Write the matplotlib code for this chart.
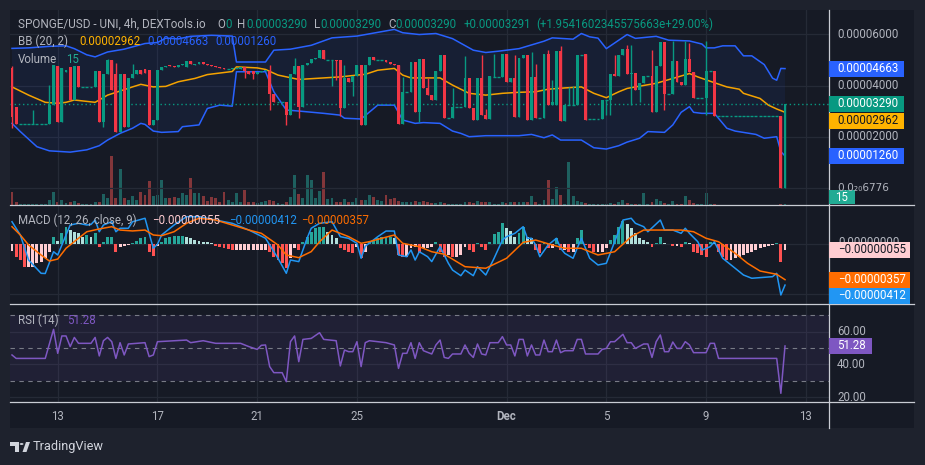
import numpy as np
import matplotlib
matplotlib.use("Agg")
import matplotlib.pyplot as plt
from matplotlib.patches import Rectangle, Polygon, Circle
from matplotlib.lines import Line2D

W, H = 925, 465
FS = 8.3
plt.rcParams["font.family"] = ["Roboto", "DejaVu Sans"]

BG_OUT = "#1e222d"
BG_IN = "#161a25"
GRID = "#252a36"
TXT = "#b2b5be"
UP = "#089981"
DOWN = "#f23645"
BLUE = "#2962ff"
AMBER = "#ffb300"

# ---- 4h candles, prices in units of 1e-6 ----
opens = [
    46.8, 31.8, 24.9, 24.9, 24.9, 24.9, 24.9, 24.9, 24.9, 24.9,
    32.4, 47.7, 25.9, 45.4, 47.3, 34.4, 47.7, 39.3, 39.3, 39.3,
    39.3, 45.6, 25.9, 44.7, 49.9, 44.7, 22.1, 44.7, 24.0, 42.8,
    44.7, 46.0, 46.3, 46.0, 24.7, 26.6, 46.0, 47.3, 48.0, 47.5,
    47.3, 48.0, 47.3, 49.5, 48.0, 48.6, 49.2, 48.6, 48.2, 47.7,
    47.3, 46.7, 46.5, 46.5, 46.7, 46.5, 47.3, 45.6, 45.6, 44.7,
    45.4, 45.6, 45.6, 36.6, 33.5, 33.5, 33.5, 28.5, 44.4, 47.7,
    31.8, 48.0, 48.9, 50.5, 50.8, 53.8, 49.9, 49.9, 49.9, 49.9,
    31.3, 43.0, 41.4, 43.8, 48.2, 24.7, 48.2, 51.2, 49.9, 49.9,
    49.9, 49.2, 48.6, 48.0, 24.9, 37.6, 37.6, 49.2, 29.6, 50.5,
    39.0, 36.3, 34.4, 45.6, 52.1, 27.2, 27.2, 31.8, 31.8, 31.8,
    43.0, 31.1, 26.6, 43.0, 28.5, 27.0, 43.4, 43.4, 43.4, 52.5,
    41.5, 42.8, 27.9, 50.8, 51.8, 26.6, 43.4, 27.2, 27.2, 52.5,
    32.4, 32.4, 53.4, 26.2, 32.4, 32.4, 32.4, 52.1, 52.5, 26.9,
    26.9, 26.9, 26.9, 34.4, 34.4, 44.7, 43.8, 51.8, 54.4, 44.7,
    45.0, 38.2, 41.2, 43.8, 43.8, 29.6, 47.7, 57.0, 36.6, 36.6,
    49.5, 41.5, 40.2, 50.5, 45.4, 35.3, 35.3, 35.3, 45.6, 45.6,
    28.3, 28.3, 28.3, 28.3, 28.3, 28.3, 28.3, 28.3, 28.3, 28.3,
    28.3, 28.3, 28.3, 28.3, 28.3, 28.3, 0.0,
]
closes = [
    27.9, 24.9, 24.9, 24.9, 24.9, 24.9, 24.9, 24.9, 24.9, 32.4,
    48.0, 25.9, 46.7, 46.0, 34.4, 47.7, 39.3, 39.3, 39.3, 39.3,
    45.6, 25.9, 44.7, 49.9, 38.2, 22.1, 44.7, 24.0, 42.8, 44.7,
    46.0, 44.7, 45.0, 24.7, 26.6, 46.0, 47.3, 47.7, 47.5, 47.3,
    48.0, 48.3, 49.5, 48.3, 48.6, 49.2, 48.6, 48.2, 47.7, 47.3,
    46.7, 46.5, 46.5, 47.0, 46.7, 47.3, 45.6, 44.7, 44.7, 45.4,
    45.6, 46.0, 36.6, 33.5, 33.5, 33.5, 28.5, 44.4, 47.7, 31.8,
    48.0, 48.9, 50.5, 50.8, 53.8, 50.5, 49.9, 49.9, 49.5, 31.3,
    43.0, 41.4, 43.8, 48.2, 24.7, 48.2, 51.2, 49.9, 49.9, 49.9,
    49.2, 48.6, 48.0, 24.9, 37.6, 37.6, 49.2, 29.6, 50.5, 39.0,
    36.3, 34.4, 45.6, 52.1, 27.2, 27.2, 31.8, 31.8, 31.8, 43.0,
    31.1, 26.6, 43.0, 28.5, 27.0, 43.8, 43.4, 43.4, 52.5, 41.5,
    42.8, 27.9, 50.8, 51.8, 26.6, 43.4, 27.2, 27.2, 52.5, 32.4,
    33.7, 53.4, 26.2, 32.4, 32.4, 32.4, 52.1, 52.1, 26.6, 26.9,
    26.9, 26.9, 34.4, 34.4, 44.7, 43.8, 51.8, 54.4, 44.7, 45.0,
    38.2, 41.2, 43.8, 43.8, 29.6, 47.7, 57.0, 36.6, 36.6, 49.5,
    41.5, 40.2, 50.5, 45.4, 35.3, 35.3, 35.3, 45.6, 45.6, 28.3,
    28.3, 28.3, 28.3, 28.3, 28.3, 28.3, 28.3, 28.3, 28.3, 28.3,
    28.3, 28.3, 28.3, 28.3, 28.3, 0.0, 32.9,
]
# wicks that reach past the body
wick_high = {0: 47.5, 5: 30.5, 9: 40.2, 23: 50.5, 25: 49.0, 29: 48.6,
             62: 48.0, 68: 50.8, 80: 48.0, 94: 43.4, 100: 43.0, 106: 38.9,
             109: 51.5, 113: 51.8, 114: 31.0, 116: 52.5, 121: 52.0,
             125: 53.0, 126: 48.6, 129: 54.0, 130: 42.0, 132: 55.5,
             134: 39.5, 135: 40.0, 145: 51.8, 148: 55.7, 149: 55.7,
             154: 53.8, 159: 57.3, 162: 57.5, 163: 56.5, 167: 57.2}
wick_low = {0: 23.5, 22: 24.0, 56: 43.0, 58: 42.5, 62: 30.5, 66: 24.5,
            69: 27.5, 77: 40.0, 78: 42.0, 79: 28.0, 82: 36.0, 98: 26.0,
            143: 28.5, 144: 28.5, 149: 32.4, 151: 33.5, 157: 30.5, 167: 28.5}
volumes = [
    200, 50, 15, 15, 15, 20, 15, 15, 15, 75,
    200, 50, 75, 35, 50, 60, 25, 10, 10, 10,
    40, 50, 160, 100, 735, 100, 540, 100, 75, 140,
    75, 200, 150, 360, 140, 150, 375, 100, 100, 125,
    100, 175, 150, 410, 175, 175, 140, 60, 125, 100,
    50, 200, 75, 50, 175, 50, 225, 40, 40, 25,
    40, 60, 75, 60, 25, 15, 50, 125, 450, 160,
    100, 450, 375, 100, 210, 500, 85, 100, 50, 50,
    90, 50, 50, 100, 75, 75, 150, 125, 75, 60,
    150, 90, 100, 60, 50, 50, 50, 60, 50, 60,
    50, 25, 35, 40, 35, 15, 15, 10, 10, 50,
    40, 35, 65, 50, 40, 50, 15, 15, 40, 35,
    40, 40, 40, 40, 40, 140, 50, 15, 75, 375,
    90, 265, 150, 10, 645, 140, 60, 40, 25, 10,
    10, 10, 15, 10, 25, 10, 50, 75, 25, 15,
    15, 15, 175, 10, 40, 90, 60, 25, 10, 60,
    15, 10, 135, 75, 25, 10, 10, 175, 10, 15,
    5, 5, 5, 5, 5, 5, 5, 5, 5, 5,
    5, 5, 5, 5, 5, 15, 15,
]

# ---- Bollinger Bands (20, 2), read at candle indices ----
bb_upper_idx = [0, 4, 9, 13, 15, 18, 20, 23, 27, 32, 35, 37, 40, 43, 48, 53, 54, 61, 63, 67,
                72, 77, 83, 92, 94, 98, 102, 106, 111, 114, 117, 122, 128, 130, 135, 137, 139,
                141, 143, 146, 148, 150, 155, 158, 163, 166, 167, 169, 171, 174, 176, 178, 181,
                183, 184, 185, 186]
bb_upper_val = [54.5, 54.7, 55.3, 55.5, 54.4, 52.0, 51.2, 53.1, 54.2, 56.4, 56.8, 58.5, 58.2,
                59.2, 59.6, 59.3, 49.2, 49.2, 53.8, 54.2, 55.7, 58.6, 59.3, 61.9, 60.6, 59.9,
                60.3, 58.3, 53.8, 52.9, 53.4, 54.4, 57.3, 58.6, 58.1, 60.3, 59.0, 58.5, 54.4,
                57.7, 59.9, 58.4, 59.2, 57.7, 57.4, 56.2, 54.7, 54.7, 55.5, 55.5, 51.6, 51.6,
                48.2, 42.9, 42.1, 46.7, 46.63]
bb_mid_idx = [0, 4, 8, 11, 13, 15, 20, 23, 26, 29, 31, 34, 37, 40, 44, 47, 50, 53, 54, 59,
              61, 64, 69, 75, 79, 83, 85, 88, 92, 94, 96, 103, 106, 110, 114, 118, 122, 126,
              129, 133, 137, 140, 143, 146, 148, 150, 155, 159, 163, 165, 168, 172, 175, 176,
              180, 182, 184, 186]
bb_mid_val = [39.5, 36.3, 33.5, 33.1, 33.5, 34.4, 33.5, 36.3, 37.9, 39.5, 40.5, 39.5, 39.7,
              41.5, 42.8, 44.3, 44.9, 45.5, 47.3, 46.9, 46.3, 44.1, 42.4, 43.0, 43.4, 44.1,
              44.4, 46.0, 46.7, 44.1, 43.0, 43.0, 40.2, 37.0, 36.3, 37.0, 37.4, 37.6, 38.6,
              39.1, 39.5, 37.0, 35.3, 37.6, 38.9, 39.5, 40.9, 42.8, 44.7, 43.4, 41.7, 39.5,
              38.6, 37.0, 35.0, 32.4, 30.9, 29.62]
bb_lower_idx = [0, 2, 6, 9, 14, 18, 21, 23, 26, 29, 31, 32, 34, 36, 40, 41, 45, 47, 50, 53,
                54, 61, 63, 66, 69, 75, 79, 80, 84, 88, 92, 94, 97, 99, 103, 106, 108, 110,
                114, 122, 125, 128, 130, 132, 137, 140, 143, 146, 148, 151, 153, 157, 159,
                161, 163, 164, 166, 169, 172, 174, 179, 181, 184, 185, 186]
bb_lower_val = [25.3, 22.1, 16.2, 14.6, 14.1, 15.0, 16.6, 18.8, 21.4, 23.4, 25.3, 24.9, 22.3,
                21.8, 22.1, 24.0, 24.7, 31.1, 32.4, 32.0, 45.4, 45.4, 37.6, 30.5, 30.1, 29.2,
                28.5, 27.3, 27.0, 32.4, 32.4, 26.6, 25.3, 25.6, 25.3, 22.3, 21.4, 20.1, 20.5,
                20.5, 21.0, 19.7, 20.8, 18.8, 18.8, 15.8, 15.3, 16.6, 18.0, 19.5, 22.1, 21.8,
                24.7, 29.6, 31.8, 29.6, 29.2, 29.2, 23.4, 22.3, 21.0, 19.5, 20.1, 14.3, 12.6]

# ---- MACD (12, 26, close, 9), units of 1e-6 ----
macd_idx = [0, 2, 4, 7, 8, 10, 11, 13, 14, 16, 18, 19, 20, 21, 22, 24, 25, 26, 28, 29,
            32, 33, 34, 35, 36, 39, 42, 45, 49, 53, 57, 61, 64, 66, 67, 69, 71, 72, 74, 77,
            79, 81, 83, 84, 85, 88, 90, 92, 93, 95, 96, 97, 98, 100, 101, 103, 105, 106, 108,
            109, 111, 112, 114, 116, 118, 119, 121, 123, 124, 125, 126, 127, 129, 131, 132,
            133, 135, 137, 138, 139, 141, 143, 145, 147, 149, 150, 152, 153, 156, 157, 159,
            161, 162, 163, 165, 166, 168, 169, 171, 174, 176, 178, 183, 184, 185, 186]
macd_val = [2.28, 0.94, -1.59, -2.93, -2.95, -0.75, -1.08, 0.94, 1.95, 2.12, 1.95, 2.0, 2.45,
            1.27, 1.95, 2.28, 1.27, 1.62, 1.62, 2.28, 2.63, 1.11, -0.40, 0.0, 0.94, 1.95, 2.79,
            2.79, 2.45, 2.12, 1.44, 0.61, -1.41, -2.93, -1.59, -1.75, 0.61, 1.62, 2.12, 2.28,
            0.77, 0.6, 0.10, -1.41, -0.2, 0.77, 1.34, 1.34, -1.08, -1.25, -0.57, -1.59, -0.75,
            -1.25, -1.75, -0.24, -1.92, -2.6, -3.17, -2.6, -3.17, -2.26, -3.1, -1.41, 0.43,
            0.77, 1.11, 1.78, 0.61, 0.61, -0.07, -1.25, -0.07, 0.61, -0.4, -0.91, -1.41, 0.61,
            -0.4, -1.41, -2.09, -1.92, 0.26, 2.45, 2.63, 2.12, 1.78, 1.27, 2.45, 1.44, 1.44,
            1.11, 1.62, 1.11, 0.27, -0.58, -0.24, 0.26, -1.41, -2.42, -3.1, -3.43, -3.27,
            -2.93, -5.12, -4.12]
signal_idx = [0, 2, 4, 7, 9, 11, 13, 16, 18, 21, 24, 26, 29, 32, 34, 36, 39, 42, 45, 49,
              53, 57, 60, 64, 66, 69, 72, 74, 77, 81, 84, 86, 89, 92, 94, 98, 101, 104, 106,
              109, 114, 119, 123, 126, 130, 133, 137, 141, 145, 149, 152, 156, 161, 164, 167,
              170, 174, 177, 180, 184, 186]
signal_val = [1.78, 0.94, -0.07, -1.08, -1.69, -1.49, -0.4, 0.61, 1.27, 1.55, 1.78, 1.44,
              1.35, 1.44, 0.94, 0.87, 1.27, 2.12, 2.63, 2.45, 1.95, 1.44, 1.11, -0.07, -1.08,
              -1.35, -0.74, 0.26, 1.44, 0.77, 0.10, 0.27, 0.61, 0.94, 0.1, -0.24, -0.75, -1.0,
              -1.5, -2.26, -2.42, -1.41, 0.2, 0.43, -0.07, -0.4, -0.4, -1.08, -0.75, 0.77,
              1.44, 1.44, 1.44, 1.27, 0.61, 0.26, -0.91, -1.92, -2.7, -3.03, -3.57]
macd_hist = [
    -0.67, -1.25, -1.58, -2.26, -2.26, -2.26, -1.92, -1.75, -1.41, -0.74,
    0.77, 0.34, 1.11, 1.78, 1.45, 1.28, 1.11, 0.77, 0.94, 0.77,
    1.11, -0.24, 0.27, 0.77, 0.77, -0.74, -0.24, -0.13, -0.07, 0.10,
    0.34, 0.61, 0.77, -0.74, -1.18, -0.13, 0.27, 0.67, 0.77, 0.84,
    0.84, 0.84, 0.77, 0.61, 0.44, 0.34, 0.27, 0.20, 0.10, -0.13,
    -0.24, -0.40, -0.51, -0.57, -0.57, -0.57, -0.57, -0.57, -0.57, -0.57,
    -0.57, -0.57, -0.74, -1.25, -1.58, -1.92, -2.42, -1.41, -0.40, -0.57,
    0.27, 0.77, 1.28, 1.62, 1.78, 1.78, 1.28, 0.94, 0.61, -0.40,
    -0.57, -0.74, -0.91, -0.24, -1.41, -0.74, 0.27, 0.34, 0.61, 0.77,
    0.77, 0.77, 0.61, -1.08, -1.25, -1.25, -0.40, -0.24, -0.91, -0.40,
    -0.40, -0.24, 0.20, -0.74, -1.25, -1.08, -1.25, -1.25, -1.08, -0.24,
    -0.57, -0.74, 0.17, -0.24, -0.57, 0.27, 1.01, 1.28, 2.12, 1.68,
    1.35, 0.77, 1.11, 1.78, 0.77, 0.61, -0.57, -0.91, 0.27, -0.40,
    -0.40, 0.67, -0.57, -0.57, -0.74, -0.74, 0.61, 1.45, -0.07, -0.40,
    -0.74, -0.74, -0.74, -0.40, 0.44, 0.94, 1.78, 2.36, 2.02, 1.62,
    1.11, 0.61, 0.44, 0.20, -0.24, 0.10, 0.77, 0.10, 0.00, -0.13,
    -0.13, -0.24, 0.20, 0.10, -0.74, -0.91, -1.08, -1.25, 0.20, 0.10,
    -0.74, -1.25, -1.58, -1.58, -1.41, -1.25, -1.08, -0.91, -0.74, -0.57,
    -0.40, -0.24, -0.13, -0.07, 0.10, -1.75, -0.55,
]

# ---- RSI (14) ----
rsi_idx = [0, 1, 8, 10, 11, 12, 13, 14, 15, 16, 19, 20, 21, 22, 23, 24, 25, 26, 27, 28,
           32, 33, 34, 35, 42, 43, 46, 49, 55, 57, 59, 60, 61, 62, 63, 65, 66, 67, 68, 69,
           70, 72, 74, 75, 78, 79, 80, 81, 82, 83, 84, 85, 86, 90, 92, 93, 94, 95, 96, 97,
           98, 99, 101, 102, 103, 104, 105, 106, 108, 109, 110, 111, 112, 113, 114, 115, 117,
           118, 119, 120, 121, 122, 123, 124, 125, 126, 127, 128, 129, 130, 131, 132, 133,
           135, 136, 137, 138, 141, 142, 143, 144, 145, 147, 148, 149, 150, 152, 153, 154,
           155, 156, 157, 158, 159, 160, 161, 162, 163, 164, 167, 168, 169, 170, 184, 185, 186]
rsi_val = [45.8, 43.7, 43.7, 61.4, 46.8, 57.4, 57.4, 50.9, 56.5, 52.9, 52.9, 56.5, 45.2, 54.5,
           56.5, 53.9, 43.7, 53.3, 45.8, 52.5, 53.3, 44.8, 45.8, 53.9, 54.9, 53.3, 54.5, 52.9,
           52.9, 50.9, 49.2, 51.7, 51.9, 38.7, 35.0, 35.0, 29.5, 53.9, 57.4, 41.7, 55.3, 55.9,
           59.4, 55.3, 54.5, 39.1, 48.8, 47.8, 47.8, 53.9, 38.7, 53.3, 54.5, 53.3, 51.9, 37.6,
           46.8, 46.8, 53.3, 43.7, 53.3, 48.4, 46.4, 51.9, 54.9, 44.3, 43.7, 46.4, 46.4, 51.9,
           46.8, 44.3, 52.5, 46.4, 45.8, 53.3, 53.3, 57.0, 51.9, 51.9, 45.2, 55.3, 55.3, 45.2,
           51.9, 45.8, 45.8, 54.9, 47.8, 47.8, 54.9, 47.2, 48.4, 48.4, 55.3, 55.3, 46.4, 46.4,
           49.2, 49.8, 53.9, 53.9, 58.4, 53.3, 53.3, 49.8, 52.5, 52.5, 44.3, 53.9, 58.0, 47.8,
           47.8, 53.7, 49.8, 49.8, 53.9, 51.9, 47.2, 47.2, 52.9, 52.9, 43.7, 43.7, 22.4, 51.28]

# time axis: candle index of each date label (Nov 11 04:00 is index 0)
date_ticks = [11, 35, 59, 83, 119, 143, 167, 191]
date_labels = ["13", "17", "21", "25", "Dec", "5", "9", "13"]

CANDLE_PX = 4.156   # pixels per 4h candle
FIRST_X = 12.0      # pixel x of the first candle
X_LEFT = (10 - FIRST_X) / CANDLE_PX
X_RIGHT = (829 - FIRST_X) / CANDLE_PX

fig = plt.figure(figsize=(W / 100, H / 100), dpi=100, facecolor=BG_OUT)


def px_axes(x0, y0, x1, y1):
    ax = fig.add_axes([x0 / W, 1 - y1 / H, (x1 - x0) / W, (y1 - y0) / H])
    ax.set_facecolor("none")
    for s in ax.spines.values():
        s.set_visible(False)
    ax.set_xticks([])
    ax.set_yticks([])
    ax.set_xlim(X_LEFT, X_RIGHT)
    return ax


def py(ax, v):
    # pixel row (from the top) of a data value
    return H - ax.transData.transform((0, v))[1]


def ftxt(x, y, s, color, size=FS, **kw):
    return fig.text(x / W, 1 - y / H, s, color=color, fontsize=size,
                    va="center", ha="left", **kw)


def tag(x0, x1, yc, fc, h=16):
    fig.add_artist(Rectangle((x0 / W, 1 - (yc + h / 2) / H), (x1 - x0) / W, h / H,
                             transform=fig.transFigure, facecolor=fc,
                             edgecolor="none", zorder=2))


# widget background
fig.add_artist(Rectangle((10 / W, 1 - 428 / H), 904 / W, 418 / H,
                         transform=fig.transFigure, facecolor=BG_IN,
                         edgecolor="none", zorder=-1))

ax_vol = px_axes(10, 10, 829, 205)
ax_p = px_axes(10, 10, 829, 205)
ax_m = px_axes(10, 205, 829, 304)
ax_r = px_axes(10, 304, 829, 402)

ax_p.set_ylim(-6.49, 69.45)
ax_vol.set_ylim(0, 2925)
ax_m.set_ylim(-6.03, 3.97)
ax_r.set_ylim(17.1, 76.9)

for ax in (ax_p, ax_m, ax_r):
    for t in date_ticks:
        ax.axvline(t, color=GRID, lw=0.9, zorder=0)
for v in (0, 20, 40, 60):
    ax_p.axhline(v, color=GRID, lw=0.9, zorder=0)
for v in (0, -5):
    ax_m.axhline(v, color=GRID, lw=0.9, zorder=0)
for v in (20, 40, 60):
    ax_r.axhline(v, color=GRID, lw=0.9, zorder=0)

# ---- price pane ----
x = np.arange(len(closes))
o = np.array(opens)
c = np.array(closes)
up = c >= o
ccol = np.where(up, UP, DOWN)

vol_col = np.where(up, "#26a69a", "#ef5350")
ax_vol.bar(x, volumes, width=0.7, color=vol_col, alpha=0.5, linewidth=0)

ax_p.fill(np.r_[bb_upper_idx, bb_lower_idx[::-1]], np.r_[bb_upper_val, bb_lower_val[::-1]],
          color=BLUE, alpha=0.07, lw=0, zorder=1)
ax_p.plot(bb_upper_idx, bb_upper_val, color=BLUE, lw=1.1, zorder=2)
ax_p.plot(bb_lower_idx, bb_lower_val, color=BLUE, lw=1.1, zorder=2)
ax_p.plot(bb_mid_idx, bb_mid_val, color="#f5a300", lw=1.1, zorder=2)

hi = np.maximum(o, c)
lo = np.minimum(o, c)
for k, v in wick_high.items():
    hi[k] = v
for k, v in wick_low.items():
    lo[k] = v
ax_p.vlines(x, lo, hi, colors=ccol, lw=1, zorder=3)
moving = np.abs(c - o) > 0.05
ax_p.bar(x[moving], (c - o)[moving], bottom=o[moving], width=0.7,
         color=ccol[moving], linewidth=0, zorder=4)
flat = ~moving
ax_p.hlines(o[flat], x[flat] - 0.35, x[flat] + 0.35, colors=ccol[flat], lw=1, zorder=4)
ax_p.axhline(closes[-1], color=UP, lw=1, ls=(0, (1, 2)), zorder=2)

# ---- MACD pane ----
hist = np.array(macd_hist)
prev = np.r_[hist[0], hist[:-1]]
hcol = np.where(hist >= 0,
                np.where(hist >= prev, "#26a69a", "#b2dfdb"),
                np.where(hist < prev, "#ff5252", "#ffcdd2"))
ax_m.bar(x, hist, width=0.7, color=hcol, linewidth=0, zorder=2)
ax_m.plot(macd_idx, macd_val, color="#2196f3", lw=1.1, zorder=3)
ax_m.plot(signal_idx, signal_val, color="#ff6d00", lw=1.1, zorder=3)

# ---- RSI pane ----
ax_r.axhspan(30, 70, color="#7e57c2", alpha=0.1, lw=0, zorder=0)
for v in (70, 50, 30):
    ax_r.axhline(v, color="#787b86", lw=0.8, dashes=(4, 4), zorder=1)
ax_r.plot(rsi_idx, rsi_val, color="#7e57c2", lw=1.1, zorder=3)

ax_r.set_xticks(date_ticks)
ax_r.set_xticklabels(date_labels, color=TXT, fontsize=FS)
ax_r.tick_params(axis="x", length=0, pad=6)
ax_r.get_xticklabels()[4].set_fontweight("bold")

# ---- separators ----
for yy in (205, 304, 402):
    fig.add_artist(Line2D([10 / W, 914 / W], [1 - yy / H] * 2, transform=fig.transFigure,
                          color="#c9ccd4", lw=0.9, zorder=1))
fig.add_artist(Line2D([829 / W] * 2, [1 - 10 / H, 1 - 428 / H], transform=fig.transFigure,
                      color="#c9ccd4", lw=0.9, zorder=1))

# ---- legends ----
title_parts = [
    (18, "SPONGE/USD - UNI, 4h, DEXTools.io", TXT), (217, "O", TXT), (225, "0", UP),
    (237, "H", TXT), (246, "0.00003290", UP), (314, "L", TXT), (320, "0.00003290", UP),
    (388, "C", TXT), (395, "0.00003290", UP), (464, "+0.00003291", UP),
    (536, "(+1.9541602345575663e+29.00%)", UP),
]
for xx, s, col in title_parts:
    ftxt(xx, 24.3, s, col, size=8.5 if xx == 18 else FS)
ftxt(18, 41.7, "BB (20, 2)", TXT)
ftxt(79, 41.7, "0.00002962", AMBER)
ftxt(147, 41.7, "0.00004663", BLUE)
ftxt(215, 41.7, "0.00001260", BLUE)
ftxt(18, 59, "Volume", TXT)
ftxt(66, 59, "15", "#22ab94")
ftxt(18, 220.7, "MACD (12, 26, close, 9)", TXT)
ftxt(152, 220.7, "\u22120.00000055", "#ffcdd2")
ftxt(229, 220.7, "\u22120.00000412", "#2196f3")
ftxt(301, 220.7, "\u22120.00000357", "#ff6d00")
ftxt(18, 320, "RSI (14)", TXT)
ftxt(67, 320, "51.28", "#7e57c2")

# ---- right price scale ----
for v, s in [(60, "0.00006000"), (40, "0.00004000"), (20, "0.00002000")]:
    ftxt(837, py(ax_p, v), s, TXT)
ftxt(837, py(ax_p, 0) - 0.5, "0.0\u2082\u20806776", TXT, size=7.6, family=["DejaVu Sans"])

y_up = py(ax_p, bb_upper_val[-1])
tag(829, 904, y_up, BLUE)
ftxt(837, y_up, "0.00004663", "white")
y_last = py(ax_p, closes[-1])
tag(829, 904, y_last, UP)
ftxt(837, y_last, "0.00003290", "white")
y_mid = max(py(ax_p, bb_mid_val[-1]), y_last + 17)
tag(829, 904, y_mid, AMBER)
ftxt(837, y_mid, "0.00002962", "#131722")
y_lo = py(ax_p, bb_lower_val[-1])
tag(829, 904, y_lo, BLUE)
ftxt(837, y_lo, "0.00001260", "white")
tag(829, 855, 197.5, "#22ab94", h=14)
ftxt(835, 197.5, "15", "white")

ftxt(838, py(ax_m, 0) - 2, "0.00000000", TXT, zorder=1.5)
y_h = py(ax_m, hist[-1])
tag(829, 910, y_h, "#ffcdd2")
ftxt(838, y_h, "\u22120.00000055", "#131722")
y_s = py(ax_m, signal_val[-1])
tag(829, 910, y_s, "#ff6d00")
ftxt(838, y_s, "\u22120.00000357", "white")
y_m = max(py(ax_m, macd_val[-1]), y_s + 16)
tag(829, 910, y_m, "#2196f3")
ftxt(838, y_m, "\u22120.00000412", "white")

for v in (60, 40, 20):
    ftxt(837, py(ax_r, v), f"{v:.2f}", TXT)
y_rsi = py(ax_r, rsi_val[-1])
tag(829, 872, y_rsi, "#7e57c2")
ftxt(837, y_rsi, f"{rsi_val[-1]:.2f}", "white")

# ---- TradingView logo ----
LOGO = "#d1d4dc"
fig.add_artist(Rectangle((10 / W, 1 - 446 / H), 9 / W, 4 / H, transform=fig.transFigure,
                         facecolor=LOGO, edgecolor="none"))
fig.add_artist(Rectangle((14.5 / W, 1 - 452 / H), 4.5 / W, 6 / H, transform=fig.transFigure,
                         facecolor=LOGO, edgecolor="none"))
fig.add_artist(Circle((21.6 / W, 1 - 444 / H), 1.9 / W, transform=fig.transFigure,
                      facecolor=LOGO, edgecolor="none"))
fig.add_artist(Polygon([(22.5 / W, 1 - 452 / H), (26.5 / W, 1 - 452 / H),
                        (30 / W, 1 - 442 / H), (26 / W, 1 - 442 / H)],
                       closed=True, transform=fig.transFigure, facecolor=LOGO,
                       edgecolor="none"))
ftxt(33, 446.5, "TradingView", LOGO, size=9.2)

fig.savefig("out.png", dpi=100, facecolor=BG_OUT)
